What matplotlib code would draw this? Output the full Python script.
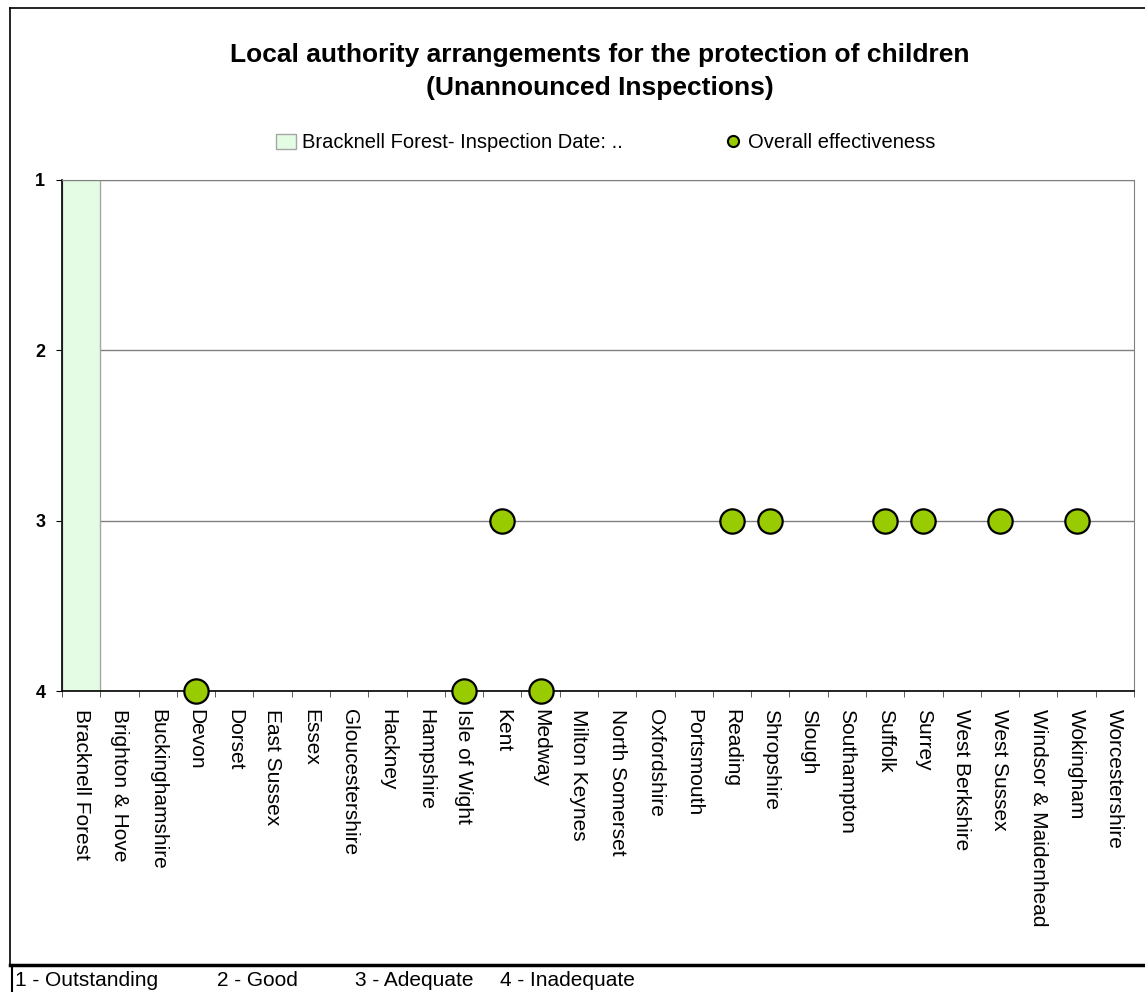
import numpy as np
import matplotlib.pyplot as plt
from matplotlib.lines import Line2D
from matplotlib.patches import Patch

plt.rcParams['font.family'] = ['Liberation Sans', 'DejaVu Sans']

authorities = ["Bracknell Forest", "Brighton & Hove", "Buckinghamshire", "Devon", "Dorset",
               "East Sussex", "Essex", "Gloucestershire", "Hackney", "Hampshire",
               "Isle of Wight", "Kent", "Medway", "Milton Keynes", "North Somerset",
               "Oxfordshire", "Portsmouth", "Reading", "Shropshire", "Slough",
               "Southampton", "Suffolk", "Surrey", "West Berkshire", "West Sussex",
               "Windsor & Maidenhead", "Wokingham", "Worcestershire"]
# overall effectiveness grade (nan = no judgement shown)
effectiveness = [np.nan, np.nan, np.nan, 4, np.nan,
                 np.nan, np.nan, np.nan, np.nan, np.nan,
                 4, 3, 4, np.nan, np.nan,
                 np.nan, np.nan, 3, 3, np.nan,
                 np.nan, 3, 3, np.nan, 3,
                 np.nan, 3, np.nan]
highlight = "Bracknell Forest"
highlight_grade = 4
grades = [1, 2, 3, 4]
grade_names = ["1 - Outstanding", "2 - Good", "3 - Adequate", "4 - Inadequate"]

W, H = 1145, 992
fig = plt.figure(figsize=(W / 100, H / 100), dpi=100)
ax = fig.add_axes([62 / W, 1 - 691 / H, (1134 - 62) / W, (691 - 180) / H])

x = np.arange(len(authorities))
hi = authorities.index(highlight)
ax.bar(x[hi], highlight_grade - grades[0], bottom=grades[0], width=1.0,
       color='#E3FCE3', edgecolor='#A6A6A6', linewidth=1, zorder=1)
ax.plot(x, effectiveness, 'o', color='#99CC00', markeredgecolor='black',
        markeredgewidth=1.6, markersize=17.5, linestyle='none', zorder=4, clip_on=False)

ax.set_xlim(-0.5, len(authorities) - 0.5)
ax.set_ylim(grades[-1], grades[0])
ax.set_yticks(grades)
ax.set_yticklabels([str(g) for g in grades], fontsize=13, fontweight='bold')
ax.yaxis.grid(True, color='#808080', linewidth=1)
ax.set_axisbelow(True)

ax.set_xticks(x)
ax.set_xticklabels(authorities, rotation=270, fontsize=15, va='top', ha='center')
ax.set_xticks(np.arange(-0.5, len(authorities)), minor=True)
ax.tick_params(axis='x', which='major', length=0, pad=13)
ax.tick_params(axis='x', which='minor', length=4.5, color='#404040', direction='out')
ax.tick_params(axis='y', length=4, color='black', direction='out', pad=8)

for s in ['top', 'right']:
    ax.spines[s].set_color('#808080')
for s in ['left', 'bottom']:
    ax.spines[s].set_color('black')
    ax.spines[s].set_linewidth(1.2)

fig.text(600 / W, 1 - 55 / H, "Local authority arrangements for the protection of children",
         fontsize=19, fontweight='bold', ha='center', va='center')
fig.text(600 / W, 1 - 88 / H, "(Unannounced Inspections)",
         fontsize=19, fontweight='bold', ha='center', va='center')

handles = [Patch(facecolor='#E3FCE3', edgecolor='#A6A6A6', label="Bracknell Forest- Inspection Date: .."),
           Line2D([], [], marker='o', color='#99CC00', markeredgecolor='black', markeredgewidth=1.5,
                  markersize=8, linestyle='none', label="Overall effectiveness")]
fig.legend(handles=handles, loc='center', bbox_to_anchor=(606 / W, 1 - 143 / H), ncol=2,
           frameon=False, fontsize=14.5, handlelength=1.0, handleheight=0.7, handletextpad=0.25,
           columnspacing=5.0)

# chart frame and footer line
fig.add_artist(Line2D([10 / W, 1], [1 - 8 / H, 1 - 8 / H], color='black', linewidth=1.2))
fig.add_artist(Line2D([10 / W, 10 / W], [1 - 8 / H, 1 - 965 / H], color='black', linewidth=1.2))
fig.add_artist(Line2D([10 / W, 1], [1 - 965 / H, 1 - 965 / H], color='black', linewidth=2.5))
fig.add_artist(Line2D([12 / W, 12 / W], [1 - 965 / H, 0], color='black', linewidth=1.5))

for name, xp in zip(grade_names, [15, 217, 355, 500]):
    fig.text(xp / W, 1 - 981 / H, name, fontsize=15, ha='left', va='center')

fig.savefig("out.png", dpi=100)
